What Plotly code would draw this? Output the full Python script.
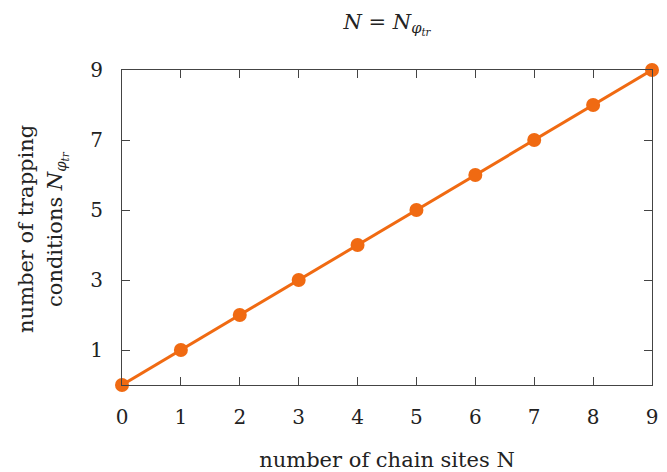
import plotly.graph_objects as go

chain_sites = [0, 1, 2, 3, 4, 5, 6, 7, 8, 9]
trapping_conditions = [0, 1, 2, 3, 4, 5, 6, 7, 8, 9]
x_ticks = [0, 1, 2, 3, 4, 5, 6, 7, 8, 9]
y_ticks = [1, 3, 5, 7, 9]
y_title_lines = ["number of trapping",
                 "conditions <i>N</i><sub><i>φ<sub>tr</sub></i></sub>"]

orange = "#F06A12"
axis_col = "#444444"
txt_col = "#222222"
font = "DejaVu Serif"

L, R, T, B, W, H = 122, 15, 70, 87, 667, 472
pw, ph = W - L - R, H - T - B

fig = go.Figure()
fig.add_trace(go.Scatter(
    x=chain_sites, y=trapping_conditions, mode="lines+markers",
    line=dict(color=orange, width=3),
    marker=dict(color=orange, size=14),
    cliponaxis=False, showlegend=False,
))

fig.update_layout(
    width=W, height=H,
    margin=dict(l=L, r=R, t=T, b=B),
    paper_bgcolor="white", plot_bgcolor="white",
    font=dict(family=font, size=20, color=txt_col),
    title=dict(text="<i>N</i> = <i>N</i><sub><i>φ<sub>tr</sub></i></sub>",
               x=(L + W - R) / 2 / W, xanchor="center", y=0.955, yanchor="middle",
               font=dict(family=font, size=21, color=txt_col)),
)
for px, line in zip([26, 57], y_title_lines):
    fig.add_annotation(
        text=line, textangle=-90, showarrow=False,
        xref="paper", yref="paper",
        x=(px - L) / pw, y=(H - B - 229) / ph,
        xanchor="center", yanchor="middle",
        font=dict(family=font, size=21, color=txt_col),
    )
fig.update_xaxes(
    range=[0, 9], tickvals=x_ticks, ticktext=[str(v) for v in x_ticks],
    showgrid=False, zeroline=False, automargin=False,
    showline=True, linecolor=axis_col, linewidth=1, mirror="ticks",
    ticks="inside", ticklen=8, tickcolor=axis_col, tickwidth=1,
    ticklabelstandoff=14,
    tickfont=dict(family=font, size=20, color=txt_col),
    title=dict(text="number of chain sites N", standoff=30,
               font=dict(family=font, size=21, color=txt_col)),
)
fig.update_yaxes(
    range=[0, 9], tickvals=y_ticks, ticktext=[str(v) for v in y_ticks],
    showgrid=False, zeroline=False, automargin=False,
    showline=True, linecolor=axis_col, linewidth=1, mirror="ticks",
    ticks="inside", ticklen=8, tickcolor=axis_col, tickwidth=1,
    ticklabelstandoff=14,
    tickfont=dict(family=font, size=20, color=txt_col),
)

fig.write_html("out.html", config={"displayModeBar": False},
               post_script="document.body.style.margin='0';")
